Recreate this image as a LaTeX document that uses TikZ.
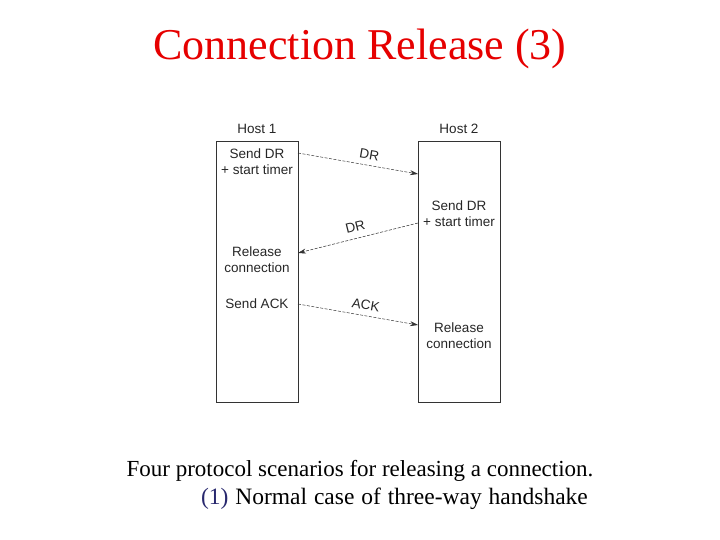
\documentclass[tikz,border=0pt]{standalone}
\usepackage{fontspec}
\setmainfont{Liberation Serif}
\setsansfont{Liberation Sans}
\usetikzlibrary{arrows.meta}
\definecolor{titlered}{RGB}{230,0,0}
\definecolor{navy}{RGB}{40,40,110}
\begin{document}
\begin{tikzpicture}[x=1pt,y=-1pt,
  hostbox/.style={draw=black!80,line width=0.6pt},
  lbl/.style={font=\sffamily\fontsize{13.5}{16}\selectfont,text=black!85,inner sep=0pt,align=center},
  msg/.style={draw=black!80,line width=0.5pt,dash pattern=on 3pt off 1.5pt,-{Stealth[length=8pt,width=5pt]}},
  msglbl/.style={font=\sffamily\fontsize{13.5}{16}\selectfont,text=black!85,sloped,above,inner sep=5.5pt}]
\useasboundingbox (0,0) rectangle (720,540);
\node[text=titlered,font=\fontsize{44}{48}\selectfont] (title) at (360,49) {Connection Release (3)};
% boxes
\draw[hostbox] (216,141) rectangle (298,402);
\draw[hostbox] (418,141) rectangle (500,402);
\node[lbl] (h1) at (257,129) {Host 1};
\node[lbl] (h2) at (459,129) {Host 2};
% host1 texts
\node[lbl] (a1) at (257,162) {Send DR\\+ start timer};
\node[lbl] (a2) at (257,259.5) {Release\\connection};
\node[lbl] (a3) at (257,304) {Send ACK};
% host2 texts
\node[lbl] (b1) at (459,214) {Send DR\\+ start timer};
\node[lbl] (b2) at (459,335.5) {Release\\connection};
% connection points
\coordinate (p1) at (298,153);
\coordinate (q1) at (418,174);
\coordinate (q2) at (418,223);
\coordinate (p2) at (298,253);
\coordinate (p3) at (298,304);
\coordinate (q3) at (418,325);
\draw[msg] (p1) -- node[msglbl,pos=0.58] {DR} (q1);
\draw[msg] (q2) -- node[msglbl,pos=0.5,inner sep=6.5pt] {DR} (p2);
\draw[msg] (p3) -- node[msglbl,pos=0.55] {ACK} (q3);
% caption
\node[font=\fontsize{23}{27}\selectfont] (cap1) at (360,471) {Four protocol scenarios for releasing a connection.};
\node[font=\fontsize{23.5}{27}\selectfont,anchor=west] (cap2) at (197.5,499) {\spaceskip=6.9pt plus 1pt\textcolor{navy}{(1)} Normal case of three-way handshake};
\end{tikzpicture}
\end{document}
